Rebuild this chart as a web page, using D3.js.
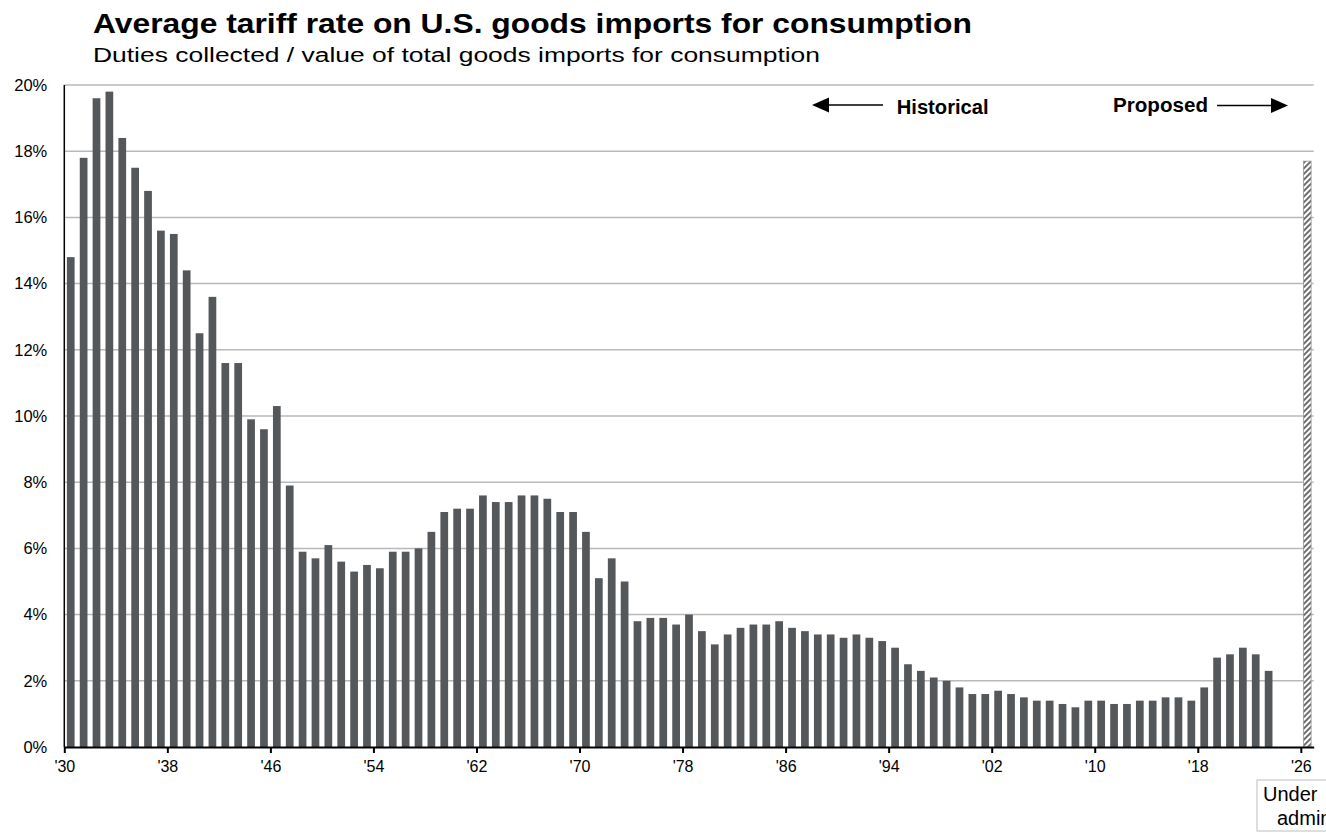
<!DOCTYPE html>
<html>
<head>
<meta charset="utf-8">
<script src="https://cdn.jsdelivr.net/npm/d3@7"></script>
<style>
  html, body { margin: 0; padding: 0; background: #fff; }
  svg { display: block; font-family: "Liberation Sans", Arial, sans-serif; }
</style>
</head>
<body>
<svg id="chart" width="1326" height="833"></svg>
<script>
// ── data ─────────────────────────────────────────────────────────────────────
const years = d3.range(1930, 2027);             // 1930 … 2026 category slots
const historicalStart = 1930;
const historicalRates = [
  14.8, 17.8, 19.6, 19.8, 18.4, 17.5, 16.8, 15.6, 15.5, 14.4, // 1930s
  12.5, 13.6, 11.6, 11.6, 9.9, 9.6, 10.3, 7.9, 5.9, 5.7,      // 1940s
  6.1, 5.6, 5.3, 5.5, 5.4, 5.9, 5.9, 6.0, 6.5, 7.1,           // 1950s
  7.2, 7.2, 7.6, 7.4, 7.4, 7.6, 7.6, 7.5, 7.1, 7.1,           // 1960s
  6.5, 5.1, 5.7, 5.0, 3.8, 3.9, 3.9, 3.7, 4.0, 3.5,           // 1970s
  3.1, 3.4, 3.6, 3.7, 3.7, 3.8, 3.6, 3.5, 3.4, 3.4,           // 1980s
  3.3, 3.4, 3.3, 3.2, 3.0, 2.5, 2.3, 2.1, 2.0, 1.8,           // 1990s
  1.6, 1.6, 1.7, 1.6, 1.5, 1.4, 1.4, 1.3, 1.2, 1.4,           // 2000s
  1.4, 1.3, 1.3, 1.4, 1.4, 1.5, 1.5, 1.4, 1.8, 2.7,           // 2010s
  2.8, 3.0, 2.8, 2.3                                          // 2020-2023
];
const proposedYears = [2026];
const proposedRates = [17.7];
const tickYears = [1930, 1938, 1946, 1954, 1962, 1970, 1978, 1986, 1994, 2002, 2010, 2018, 2026];
const yTicks = [0, 2, 4, 6, 8, 10, 12, 14, 16, 18, 20];

const historical = historicalRates.map((v, i) => ({ year: historicalStart + i, value: v }));
const proposed = proposedYears.map((y, i) => ({ year: y, value: proposedRates[i] }));

// ── layout ───────────────────────────────────────────────────────────────────
const plot = { left: 64.3, right: 1313.7, top: 85, bottom: 747 };
const BAR_COLOR = '#55585b';
const GRID_COLOR = '#b9b9b9';

const svg = d3.select('#chart');

const x = d3.scaleBand()
  .domain(years)
  .range([plot.left, plot.right])
  .paddingInner(0.4)
  .paddingOuter(0.2);

// linear helper so ticks sit on slot boundaries
const xYear = d3.scaleLinear()
  .domain([years[0], years[years.length - 1] + 1])
  .range([plot.left, plot.right]);

const y = d3.scaleLinear().domain([0, 20]).range([plot.bottom, plot.top]);

// hatch pattern for the proposed bar
const defs = svg.append('defs');
const pat = defs.append('pattern')
  .attr('id', 'hatch')
  .attr('patternUnits', 'userSpaceOnUse')
  .attr('width', 4).attr('height', 4)
  .attr('patternTransform', 'rotate(45)');
pat.append('rect').attr('width', 4).attr('height', 4).attr('fill', '#fff');
pat.append('rect').attr('width', 2).attr('height', 4).attr('fill', '#6e6e6e');

// ── titles ───────────────────────────────────────────────────────────────────
svg.append('text')
  .attr('x', 93).attr('y', 33)
  .attr('font-size', 28).attr('font-weight', 'bold').attr('fill', '#000')
  .attr('textLength', 879).attr('lengthAdjust', 'spacingAndGlyphs')
  .text('Average tariff rate on U.S. goods imports for consumption');

svg.append('text')
  .attr('x', 93).attr('y', 62)
  .attr('font-size', 20).attr('fill', '#000')
  .attr('textLength', 727).attr('lengthAdjust', 'spacingAndGlyphs')
  .text('Duties collected / value of total goods imports for consumption');

// ── gridlines + y labels ─────────────────────────────────────────────────────
svg.append('g')
  .selectAll('line')
  .data(yTicks.filter(d => d > 0))
  .join('line')
  .attr('x1', plot.left).attr('x2', plot.right)
  .attr('y1', d => y(d)).attr('y2', d => y(d))
  .attr('stroke', GRID_COLOR).attr('stroke-width', 1.5);

const yAxis = svg.append('g')
  .attr('transform', `translate(${plot.left},0)`)
  .call(d3.axisLeft(y).tickValues(yTicks).tickSize(0).tickPadding(17).tickFormat(d => d + '%'));
yAxis.select('.domain').remove();
yAxis.selectAll('text')
  .attr('font-size', 16.5).attr('fill', '#000')
  .attr('font-family', '"Liberation Sans", Arial, sans-serif');

// ── bars ─────────────────────────────────────────────────────────────────────
svg.append('g')
  .selectAll('rect')
  .data(historical)
  .join('rect')
  .attr('x', d => x(d.year))
  .attr('width', x.bandwidth())
  .attr('y', d => y(d.value))
  .attr('height', d => y(0) - y(d.value))
  .attr('fill', BAR_COLOR);

svg.append('g')
  .selectAll('rect')
  .data(proposed)
  .join('rect')
  .attr('x', d => x(d.year))
  .attr('width', x.bandwidth())
  .attr('y', d => y(d.value))
  .attr('height', d => y(0) - y(d.value))
  .attr('fill', 'url(#hatch)')
  .attr('stroke', '#9a9a9a').attr('stroke-width', 0.8);

// ── axes lines ───────────────────────────────────────────────────────────────
svg.append('line')
  .attr('x1', plot.left).attr('x2', plot.left)
  .attr('y1', plot.top).attr('y2', plot.bottom)
  .attr('stroke', '#000').attr('stroke-width', 1.5);

const xAxis = svg.append('g')
  .attr('transform', `translate(0,${plot.bottom})`)
  .call(d3.axisBottom(xYear)
    .tickValues(tickYears)
    .tickSize(6).tickSizeOuter(0).tickPadding(8)
    .tickFormat(d => "'" + String(d).slice(2)));
xAxis.select('.domain').attr('stroke', '#000').attr('stroke-width', 2);
xAxis.selectAll('.tick line').attr('stroke', '#000').attr('stroke-width', 2);
xAxis.selectAll('text')
  .attr('font-size', 16).attr('fill', '#000')
  .attr('font-family', '"Liberation Sans", Arial, sans-serif');

// ── annotations ──────────────────────────────────────────────────────────────
const ann = svg.append('g').attr('fill', '#000');

ann.append('line')
  .attr('x1', 826).attr('x2', 883).attr('y1', 105).attr('y2', 105)
  .attr('stroke', '#000').attr('stroke-width', 1.5);
ann.append('path').attr('d', 'M812,105L829,97.5L829,112.5Z');
ann.append('text')
  .attr('x', 896.7).attr('y', 114)
  .attr('font-size', 21).attr('font-weight', 'bold')
  .attr('textLength', 92).attr('lengthAdjust', 'spacingAndGlyphs')
  .text('Historical');

ann.append('text')
  .attr('x', 1113).attr('y', 112)
  .attr('font-size', 21).attr('font-weight', 'bold')
  .attr('textLength', 95).attr('lengthAdjust', 'spacingAndGlyphs')
  .text('Proposed');
ann.append('line')
  .attr('x1', 1217).attr('x2', 1274).attr('y1', 105.5).attr('y2', 105.5)
  .attr('stroke', '#000').attr('stroke-width', 1.5);
ann.append('path').attr('d', 'M1288,105.5L1271,98L1271,113Z');

// label box under the '26 tick (runs off the edge, as in the source)
const box = svg.append('g');
box.append('rect')
  .attr('x', 1257).attr('y', 780).attr('width', 90).attr('height', 51)
  .attr('fill', '#fff').attr('stroke', '#c9c9c9').attr('stroke-width', 1.2);
box.append('text')
  .attr('x', 1263).attr('y', 801).attr('font-size', 20).attr('fill', '#000')
  .text('Under');
box.append('text')
  .attr('x', 1277).attr('y', 825).attr('font-size', 20).attr('fill', '#000')
  .text('administration');
</script>
</body>
</html>
